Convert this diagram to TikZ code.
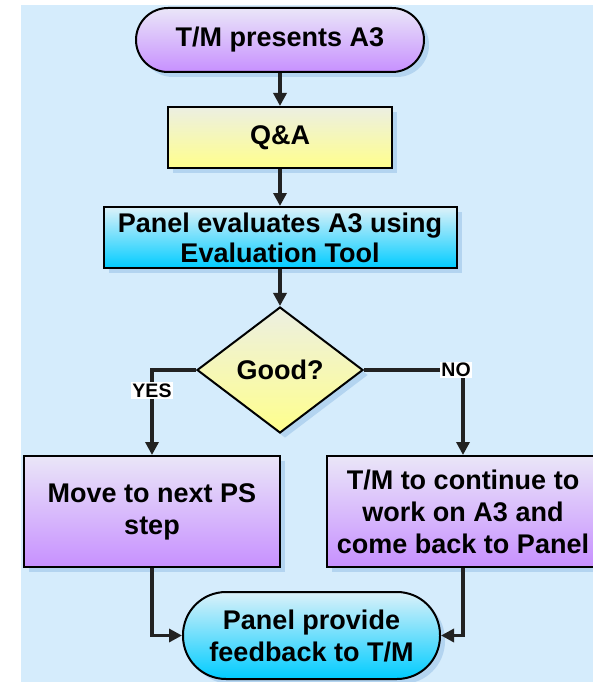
\documentclass[tikz,border=0pt]{standalone}
\usepackage{fontspec}
\setmainfont{Liberation Sans}
\usetikzlibrary{shapes.geometric,arrows.meta}

\definecolor{bgblue}{HTML}{D5ECFC}
\definecolor{shadowblue}{HTML}{B3D4F0}
\definecolor{purpleA}{HTML}{EAE6F8}
\definecolor{purpleB}{HTML}{C790FF}
\definecolor{yellowA}{HTML}{ECEFE2}
\definecolor{yellowB}{HTML}{FFFF8C}
\definecolor{cyanA}{HTML}{DCF1F9}
\definecolor{cyanB}{HTML}{00CCFF}
\definecolor{linegray}{HTML}{222222}

\tikzset{
  shapebase/.style={draw=black, line width=2pt, inner sep=0pt,
    align=center, font=\fontsize{27}{32}\selectfont\bfseries,
    shading angle=35,
    preaction={fill=shadowblue, transform canvas={shift={(5pt,-5pt)}}}},
  purplefill/.style={top color=purpleA, bottom color=purpleB},
  yellowfill/.style={top color=yellowA, bottom color=yellowB},
  cyanfill/.style={top color=cyanA, bottom color=cyanB},
  procbox/.style={shapebase, rectangle},
  termbox/.style={shapebase, rectangle, rounded corners=#1},
  decbox/.style={shapebase, diamond},
  flow/.style={draw=linegray, line width=3.5pt,
    -{Triangle[length=13pt,width=13pt]}},
  branchlabel/.style={fill=white, inner sep=1.5pt,
    font=\fontsize{19.5}{22}\selectfont\bfseries}
}

\begin{document}
\begin{tikzpicture}[x=1pt,y=-1pt]
\useasboundingbox (0,0) rectangle (593,682);
\fill[white] (0,0) rectangle (593,682);
\fill[bgblue] (21,5) rectangle (593,682);

\begin{scope}
\clip (0,0) rectangle (593,682);

% process steps
\node[termbox=32pt, purplefill, minimum width=288pt, minimum height=64pt]
  (start) at (280,40) {T/M presents A3};
\node[procbox, yellowfill, minimum width=224pt, minimum height=61pt]
  (qa) at (280,137.5) {Q\&A};
\node[procbox, cyanfill, minimum width=353pt, minimum height=61pt]
  (eval) at (280,237.5) {Panel evaluates A3 using\\[-2pt]Evaluation Tool};
\node[decbox, yellowfill, minimum width=166pt, minimum height=126pt]
  (good) at (280,370) {Good?};
\node[procbox, purplefill, minimum width=256pt, minimum height=111pt]
  (next) at (152,511.5) {Move to next PS\\step};
\node[procbox, purplefill, minimum width=272pt, minimum height=111pt]
  (rework) at (463,511.5) {T/M to continue to\\work on A3 and\\come back to Panel};
\node[termbox=43pt, cyanfill, minimum width=257pt, minimum height=87pt]
  (feedback) at (311.5,635.5) {Panel provide\\feedback to T/M};

% connectors
\draw[flow] (start) -- (qa);
\draw[flow] (qa) -- (eval);
\draw[flow] (eval) -- (good);
\draw[flow] (good.west) -| (next.north)
  node[branchlabel, pos=0.62] {YES};
\draw[flow] (good.east) -| (rework.north)
  node[branchlabel, pos=0.465] {NO};
\draw[flow] (next.south) |- (feedback.west);
\draw[flow] (rework.south) |- (feedback.east);
\end{scope}
\end{tikzpicture}
\end{document}
